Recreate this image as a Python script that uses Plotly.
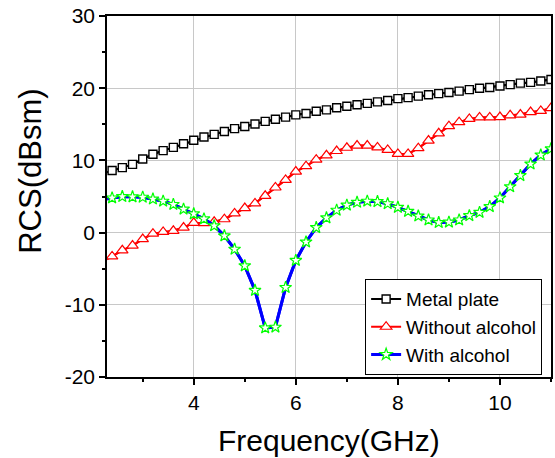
import plotly.graph_objects as go

# Frequency sweep (GHz): line starts at 2.3, markers every 0.2 GHz from 2.4
freq_start = 2.3
freq = [2.4, 2.6, 2.8, 3.0, 3.2, 3.4, 3.6, 3.8, 4.0, 4.2, 4.4, 4.6, 4.8, 5.0,
        5.2, 5.4, 5.6, 5.8, 6.0, 6.2, 6.4, 6.6, 6.8, 7.0, 7.2, 7.4, 7.6, 7.8,
        8.0, 8.2, 8.4, 8.6, 8.8, 9.0, 9.2, 9.4, 9.6, 9.8, 10.0, 10.2, 10.4,
        10.6, 10.8, 11.0]

# RCS values (dBsm)
metal_start = 8.35
metal_plate = [8.6, 9.0, 9.45, 10.2, 10.85, 11.35, 11.8, 12.3, 12.8, 13.25,
               13.6, 14.0, 14.4, 14.7, 15.05, 15.4, 15.7, 16.0, 16.3, 16.5,
               16.8, 17.0, 17.3, 17.5, 17.7, 17.9, 18.1, 18.3, 18.55, 18.7,
               18.9, 19.1, 19.25, 19.4, 19.6, 19.8, 20.0, 20.1, 20.3, 20.5,
               20.7, 20.8, 21.0, 21.2]

without_start = -3.7
without_alcohol = [-3.3, -2.45, -1.8, -0.9, -0.15, 0.1, 0.25, 0.7, 1.35, 1.3,
                   1.5, 1.85, 2.65, 3.4, 4.05, 5.1, 6.25, 7.3, 8.45, 9.2,
                   10.1, 10.7, 11.3, 11.75, 12.05, 12.05, 11.8, 11.45, 10.9,
                   10.9, 11.7, 12.75, 13.75, 14.75, 15.3, 15.75, 15.95, 15.95,
                   16.0, 16.25, 16.35, 16.7, 16.85, 17.25]

with_start = 4.65
with_alcohol = [4.8, 5.0, 4.95, 4.9, 4.65, 4.35, 3.9, 3.25, 2.6, 1.9, 0.95,
                -0.45, -2.3, -4.6, -8.0, -13.2, -13.1, -7.6, -3.85, -1.3,
                0.7, 2.05, 3.1, 3.8, 4.2, 4.35, 4.3, 4.0, 3.5, 2.95, 2.3,
                1.75, 1.4, 1.45, 1.75, 2.35, 2.8, 3.6, 4.8, 6.35, 7.9, 9.5,
                10.75, 11.6]

x_ticks = [4, 6, 8, 10]
y_ticks = [-20, -10, 0, 10, 20, 30]
y_tick_text = ["-20", "-10", "0", "10", "20", "30"]

FONT = "Arial, Liberation Sans, sans-serif"

series = [
    ("Metal plate", metal_start, metal_plate, "black", 2,
     dict(symbol="square", size=8, color="white",
          line=dict(color="black", width=1.4))),
    ("Without alcohol", without_start, without_alcohol, "red", 2,
     dict(symbol="triangle-up", size=10, color="white",
          line=dict(color="red", width=1.2))),
    ("With alcohol", with_start, with_alcohol, "blue", 3,
     dict(symbol="star", size=9, color="white",
          line=dict(color="#00ff00", width=1.2))),
]

fig = go.Figure()
for name, y0, ys, color, lw, marker in series:
    # continuous curve from the start of the sweep
    fig.add_trace(go.Scatter(
        x=[freq_start] + freq, y=[y0] + ys, mode="lines",
        line=dict(color=color, width=lw), showlegend=False, hoverinfo="skip"))
    # marked samples
    fig.add_trace(go.Scatter(
        x=freq, y=ys, mode="lines+markers", name=name,
        line=dict(color=color, width=lw), marker=marker))

axis_common = dict(
    showline=True, linecolor="black", linewidth=1.5, mirror=True,
    ticks="outside", ticklen=6, tickwidth=1.5, tickcolor="black",
    showgrid=True, gridcolor="#c8c8c8", gridwidth=1, zeroline=False,
    tickfont=dict(family=FONT, size=21, color="black"),
)

fig.update_xaxes(range=[2.3, 11.0], tickvals=x_ticks,
                 minor=dict(ticks="outside", ticklen=3, tickwidth=1.5,
                            tickcolor="black", dtick=1, showgrid=False),
                 **axis_common)
fig.update_yaxes(range=[-20, 30], tickvals=y_ticks, ticktext=y_tick_text,
                 minor=dict(ticks="outside", ticklen=3, tickwidth=1.5,
                            tickcolor="black", dtick=5, showgrid=False),
                 **axis_common)

fig.add_annotation(text="Frequency(GHz)", xref="paper", yref="paper",
                   x=0.5, y=-0.175, xanchor="center", yanchor="middle",
                   showarrow=False, font=dict(family=FONT, size=30, color="black"))
fig.add_annotation(text="RCS(dBsm)", xref="paper", yref="paper",
                   x=-0.173, y=0.569, xanchor="center", yanchor="middle",
                   textangle=-90, showarrow=False,
                   font=dict(family=FONT, size=31, color="black"))

fig.update_layout(
    width=555, height=458,
    margin=dict(l=107, r=2, t=16, b=81),
    paper_bgcolor="white", plot_bgcolor="white",
    legend=dict(x=0.98, y=0.005, xanchor="right", yanchor="bottom",
                bgcolor="white", bordercolor="black", borderwidth=1,
                font=dict(family=FONT, size=19, color="black"),
                tracegroupgap=0, itemwidth=30),
)

fig.write_html("out.html")
